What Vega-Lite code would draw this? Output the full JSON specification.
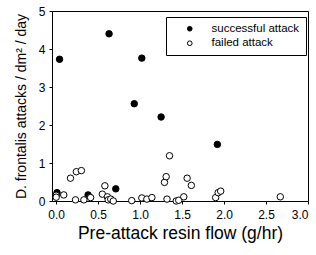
{
  "$schema": "https://vega.github.io/schema/vega-lite/v6.json",
  "width": 256,
  "height": 190,
  "autosize": {"type": "none"},
  "padding": {"left": 52, "top": 11, "right": 8, "bottom": 54},
  "config": {
    "font": "Liberation Sans",
    "view": {"stroke": "black", "strokeWidth": 1},
    "axis": {"grid": false, "domainColor": "black", "tickColor": "black", "labelColor": "black", "titleColor": "black", "titleFontWeight": "normal"}
  },
  "data": {"values": [
    {"x": 0.04, "y": 3.73, "g": "successful attack"},
    {"x": 0.63, "y": 4.40, "g": "successful attack"},
    {"x": 1.02, "y": 3.76, "g": "successful attack"},
    {"x": 0.93, "y": 2.56, "g": "successful attack"},
    {"x": 1.25, "y": 2.21, "g": "successful attack"},
    {"x": 1.92, "y": 1.49, "g": "successful attack"},
    {"x": 0.01, "y": 0.22, "g": "successful attack"},
    {"x": 0.38, "y": 0.16, "g": "successful attack"},
    {"x": 0.71, "y": 0.32, "g": "successful attack"},
    {"x": 0.0, "y": 0.15, "g": "failed attack"},
    {"x": 0.0, "y": 0.10, "g": "failed attack"},
    {"x": 0.09, "y": 0.16, "g": "failed attack"},
    {"x": 0.17, "y": 0.60, "g": "failed attack"},
    {"x": 0.24, "y": 0.77, "g": "failed attack"},
    {"x": 0.30, "y": 0.80, "g": "failed attack"},
    {"x": 0.23, "y": 0.03, "g": "failed attack"},
    {"x": 0.33, "y": 0.03, "g": "failed attack"},
    {"x": 0.41, "y": 0.09, "g": "failed attack"},
    {"x": 0.55, "y": 0.18, "g": "failed attack"},
    {"x": 0.58, "y": 0.40, "g": "failed attack"},
    {"x": 0.61, "y": 0.11, "g": "failed attack"},
    {"x": 0.62, "y": 0.03, "g": "failed attack"},
    {"x": 0.65, "y": 0.05, "g": "failed attack"},
    {"x": 0.68, "y": 0.0, "g": "failed attack"},
    {"x": 0.90, "y": 0.01, "g": "failed attack"},
    {"x": 1.02, "y": 0.08, "g": "failed attack"},
    {"x": 1.08, "y": 0.05, "g": "failed attack"},
    {"x": 1.14, "y": 0.09, "g": "failed attack"},
    {"x": 1.29, "y": 0.49, "g": "failed attack"},
    {"x": 1.31, "y": 0.64, "g": "failed attack"},
    {"x": 1.35, "y": 1.19, "g": "failed attack"},
    {"x": 1.32, "y": 0.05, "g": "failed attack"},
    {"x": 1.43, "y": 0.0, "g": "failed attack"},
    {"x": 1.46, "y": 0.02, "g": "failed attack"},
    {"x": 1.52, "y": 0.11, "g": "failed attack"},
    {"x": 1.56, "y": 0.60, "g": "failed attack"},
    {"x": 1.61, "y": 0.41, "g": "failed attack"},
    {"x": 1.90, "y": 0.09, "g": "failed attack"},
    {"x": 1.93, "y": 0.22, "g": "failed attack"},
    {"x": 1.96, "y": 0.26, "g": "failed attack"},
    {"x": 2.67, "y": 0.11, "g": "failed attack"}
  ]},
  "mark": {"type": "point", "shape": "circle", "size": 42, "stroke": "black", "strokeWidth": 1, "filled": false, "opacity": 1},
  "encoding": {
    "x": {
      "field": "x", "type": "quantitative",
      "scale": {"domain": [-0.05, 3.0], "nice": false, "zero": false},
      "axis": {"values": [0, 0.5, 1, 1.5, 2, 2.5, 3], "format": ".1f", "tickSize": 3, "labelFontSize": 12, "labelPadding": 5, "title": "Pre-attack resin flow (g/hr)", "titleFontSize": 17.5, "titlePadding": 4}
    },
    "y": {
      "field": "y", "type": "quantitative",
      "scale": {"domain": [0, 5], "nice": false},
      "axis": {"values": [0, 1, 2, 3, 4, 5], "tickSize": 3, "labelFontSize": 12, "labelPadding": 4, "title": "D. frontalis attacks / dm² / day", "titleFontSize": 14, "titlePadding": 10}
    },
    "fill": {
      "field": "g", "type": "nominal",
      "scale": {"domain": ["successful attack", "failed attack"], "range": ["black", "white"]},
      "legend": {"title": null, "orient": "none", "legendX": 114, "legendY": 6, "strokeColor": "black", "padding": 6, "symbolOffset": 12, "symbolSize": 22, "symbolStrokeColor": "black", "symbolStrokeWidth": 1, "labelFontSize": 11.5, "labelOffset": 16, "labelColor": "black", "rowPadding": 1.5, "symbolType": "circle"}
    }
  }
}
